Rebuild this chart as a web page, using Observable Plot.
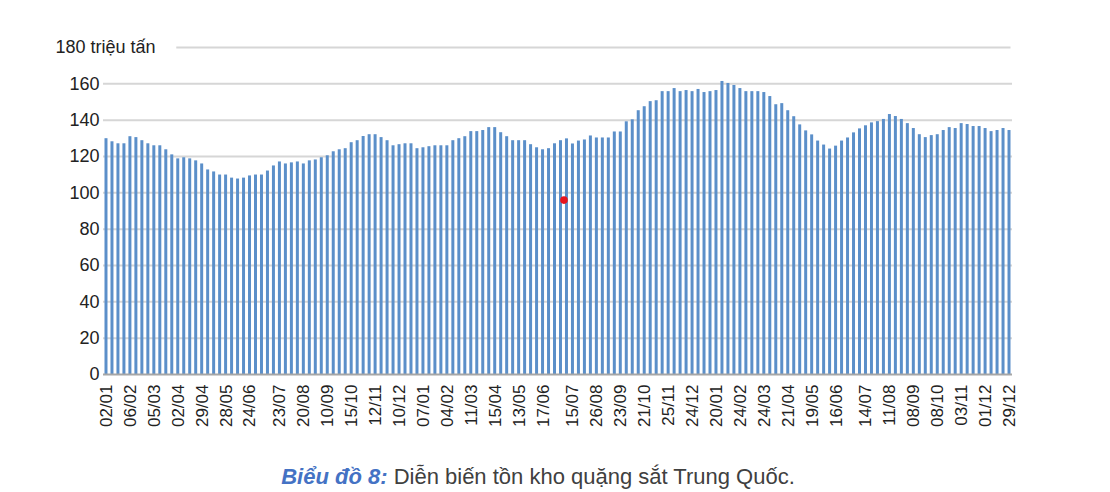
<!DOCTYPE html>
<html>
<head>
<meta charset="utf-8">
<script src="https://cdn.jsdelivr.net/npm/d3@7"></script>
<script src="https://cdn.jsdelivr.net/npm/@observablehq/plot@0.6"></script>
<style>
  html, body { margin: 0; padding: 0; background: #fff; width: 1110px; height: 492px; overflow: hidden; }
  #caption { text-align: center; font-family: "Liberation Sans", Arial, sans-serif; font-size: 22px; line-height: 26px; margin-top: 9px; padding-right: 34px; }
  #caption .lead { color: #4472c4; font-weight: bold; font-style: italic; }
  #caption .rest { color: #404040; }
</style>
</head>
<body>
<div id="chart"></div>
<div id="caption"><span class="lead">Biểu đồ 8:</span> <span class="rest">Diễn biến tồn kho quặng sắt Trung Quốc.</span></div>
<script>
// Weekly iron-ore port inventory, million tonnes
const inventory = [
  129.8, 128.1, 127.0, 127.0, 130.9, 130.4, 128.7, 127.0, 125.9, 125.9,
  123.7, 120.9, 118.7, 119.3, 118.7, 117.6, 115.9, 112.6, 111.5, 109.8,
  109.8, 108.1, 107.6, 108.1, 109.3, 109.8, 109.8, 112.0, 114.8, 117.0,
  115.9, 116.5, 117.0, 115.9, 117.6, 118.1, 119.3, 120.4, 122.6, 123.7,
  124.3, 127.6, 128.7, 131.0, 132.0, 132.0, 130.4, 128.7, 125.9, 126.5,
  127.0, 127.0, 124.3, 124.8, 125.4, 125.9, 125.9, 125.9, 128.7, 129.8,
  130.9, 133.7, 133.7, 134.3, 135.9, 135.9, 133.1, 130.9, 128.7, 128.7,
  128.7, 126.5, 124.8, 123.7, 124.3, 127.0, 128.7, 129.7, 126.9, 128.5,
  129.1, 131.3, 130.2, 130.2, 130.2, 133.5, 133.5, 139.1, 140.2, 145.2,
  147.4, 150.2, 150.7, 155.7, 155.7, 157.4, 155.7, 156.3, 155.7, 156.9,
  155.2, 155.7, 156.3, 161.3, 160.2, 159.1, 157.4, 155.7, 155.7, 155.7,
  155.2, 153.0, 148.5, 149.1, 145.2, 141.9, 137.4, 134.1, 131.9, 128.5,
  126.3, 124.1, 125.7, 128.5, 130.2, 133.0, 135.2, 136.9, 138.5, 139.2,
  140.4, 143.1, 142.0, 140.4, 138.1, 135.4, 132.0, 130.4, 131.5, 132.0,
  134.3, 135.9, 135.4, 138.1, 137.6, 136.5, 136.5, 135.4, 133.7, 134.3,
  135.4, 134.3
];

// Date labels shown along the x axis
const dateLabels = [
  "02/01", "06/02", "05/03", "02/04", "29/04", "28/05", "24/06", "23/07",
  "20/08", "10/09", "15/10", "12/11", "10/12", "07/01", "04/02", "11/03",
  "15/04", "13/05", "17/06", "15/07", "26/08", "23/09", "21/10", "25/11",
  "24/12", "20/01", "24/02", "24/03", "21/04", "19/05", "16/06", "14/07",
  "11/08", "08/09", "08/10", "03/11", "01/12", "29/12"
];

// Y axis ticks
const yTicks = [0, 20, 40, 60, 80, 100, 120, 140, 160];
const yTopTick = 180;
const yTopLabel = "180 triệu tấn";

// Single outlier point (red dot)
const outlierWeek = [77];
const outlierValue = [96];

const N = inventory.length;
const weeks = d3.range(N);
const data = weeks.map(i => ({week: i, value: inventory[i]}));
const tickIdx = dateLabels.map((_, k) => Math.round(k * (N - 1) / (dateLabels.length - 1)));
const labelOf = new Map(tickIdx.map((t, k) => [t, dateLabels[k]]));
const outlier = outlierWeek.map((w, i) => ({week: w, value: outlierValue[i]}));

const chart = Plot.plot({
  width: 1110,
  height: 455,
  marginTop: 47,
  marginBottom: 81,
  marginLeft: 103,
  marginRight: 98,
  style: {fontFamily: "'Liberation Sans', Arial, sans-serif", fontSize: "17px", color: "#333", background: "#fff", overflow: "visible"},
  x: {type: "band", domain: weeks, paddingInner: 0.5, paddingOuter: 0.25},
  y: {domain: [0, 180]},
  marks: [
    Plot.ruleY(yTicks.filter(t => t > 0), {stroke: "#d6d6d6", strokeWidth: 2}),
    Plot.ruleY([yTopTick], {x1: 12, x2: N - 1, stroke: "#d6d6d6", strokeWidth: 2}),
    Plot.barY(data, {x: "week", y: "value", fill: "#5b8fc9"}),
    Plot.ruleY([0], {stroke: "#a6a6a6", strokeWidth: 2}),
    Plot.dot(outlier, {x: "week", y: "value", r: 3.8, fill: "#e8141c", stroke: "none", dx: -3}),
    Plot.axisY(yTicks, {tickSize: 0, tickPadding: 4, fontSize: 18, fill: "#222", label: null}),
    Plot.text([yTopTick], {y: d => d, text: () => yTopLabel, frameAnchor: "left", dx: -48, textAnchor: "start", fontSize: 18, fill: "#222"}),
    Plot.axisX(tickIdx, {tickSize: 0, tickPadding: 10, tickRotate: -90, fontSize: 17, fill: "#222", label: null, tickFormat: i => labelOf.get(i)})
  ]
});
document.getElementById("chart").appendChild(chart);
</script>
</body>
</html>
